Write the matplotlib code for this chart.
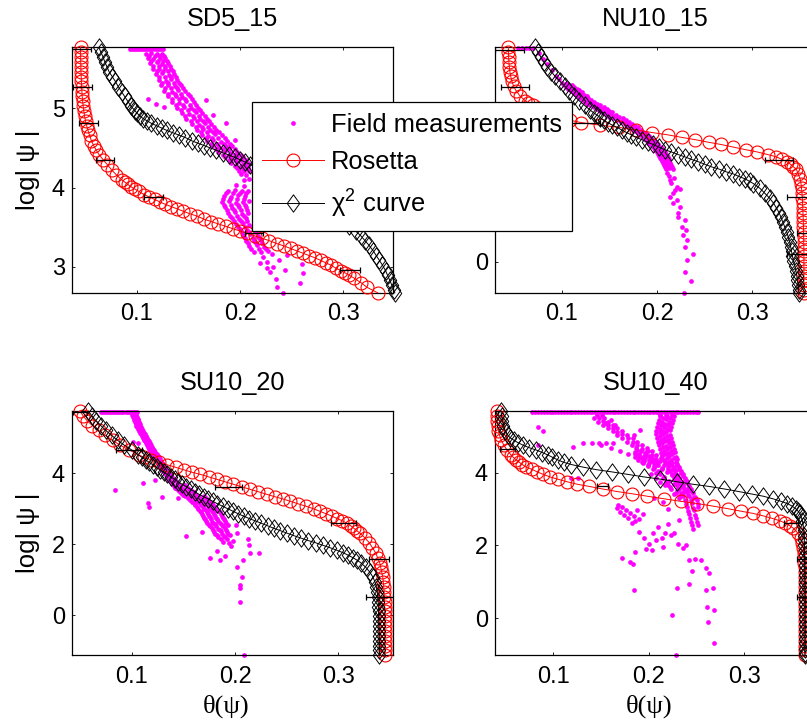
import matplotlib
matplotlib.use("Agg")
import matplotlib.pyplot as plt
from matplotlib.lines import Line2D
from matplotlib.path import Path

plt.rcParams["font.family"] = ["Liberation Sans", "DejaVu Sans"]
plt.rcParams["mathtext.fontset"] = "custom"
plt.rcParams["mathtext.rm"] = "Liberation Sans"
plt.rcParams["mathtext.it"] = "Liberation Sans:italic"
plt.rcParams["mathtext.default"] = "regular"

MAGENTA = "#ff00ff"

# ---------------- SD5_15 ----------------
SD5_ROS_PSI = [5.77, 5.71, 5.65, 5.58, 5.52, 5.46, 5.40, 5.34, 5.27, 5.21, 5.15, 5.09, 5.03, 4.97,
               4.90, 4.84, 4.78, 4.72, 4.66, 4.59, 4.53, 4.47, 4.41, 4.35, 4.29, 4.22, 4.16, 4.10,
               4.07, 4.04, 4.01, 3.98, 3.95, 3.91, 3.88, 3.85, 3.82, 3.79, 3.76, 3.73, 3.70, 3.67,
               3.64, 3.60, 3.57, 3.54, 3.51, 3.48, 3.45, 3.42, 3.39, 3.36, 3.33, 3.29, 3.26, 3.23,
               3.20, 3.17, 3.14, 3.11, 3.08, 3.05, 3.02, 2.98, 2.95, 2.92, 2.89, 2.86,
               2.80, 2.74, 2.67]
SD5_ROS_THETA = [0.0453, 0.0453, 0.0454, 0.0455, 0.0456, 0.0457, 0.0459, 0.0461, 0.0463, 0.0466,
                 0.0469, 0.0473, 0.0478, 0.0484, 0.0492, 0.0501, 0.0512, 0.0525, 0.0540, 0.0558,
                 0.0580, 0.0605, 0.0635, 0.0672, 0.0712, 0.0755, 0.0800, 0.0850,
                 0.088, 0.091, 0.094, 0.098, 0.102, 0.107, 0.112, 0.117, 0.122, 0.127, 0.133, 0.139,
                 0.145, 0.151, 0.158, 0.165, 0.172, 0.179, 0.186, 0.193, 0.200, 0.207, 0.214, 0.221,
                 0.228, 0.236, 0.243, 0.249, 0.255, 0.261, 0.267, 0.273, 0.278, 0.283, 0.288, 0.293,
                 0.298, 0.302, 0.306, 0.310,
                 0.317, 0.323, 0.3335]
SD5_CHI_PSI = [5.77, 5.71, 5.65, 5.58, 5.52, 5.46, 5.40, 5.34, 5.27, 5.21, 5.15, 5.09, 5.03,
               5.00, 4.97, 4.94, 4.90, 4.87, 4.84, 4.81, 4.78, 4.75, 4.72, 4.69, 4.66, 4.63, 4.59,
               4.56, 4.53, 4.50, 4.47, 4.44, 4.41, 4.38, 4.35, 4.32, 4.29, 4.26,
               4.20, 4.13, 4.07, 4.01, 3.95, 3.88, 3.82, 3.76, 3.70, 3.64, 3.57, 3.51, 3.45, 3.39,
               3.33, 3.27, 3.20, 3.14, 3.08, 3.02, 2.95, 2.89, 2.83, 2.77, 2.71, 2.67]
SD5_CHI_THETA = [0.063, 0.065, 0.067, 0.069, 0.071, 0.073, 0.076, 0.079, 0.082, 0.085, 0.088, 0.091, 0.094,
                 0.096, 0.098, 0.100, 0.103, 0.106, 0.110, 0.114, 0.119, 0.124, 0.129, 0.135, 0.141,
                 0.147, 0.153, 0.159, 0.165, 0.171, 0.177, 0.183, 0.189, 0.195, 0.200, 0.205, 0.210, 0.214,
                 0.221, 0.229, 0.237, 0.245, 0.253, 0.261, 0.269, 0.277, 0.285, 0.292, 0.299, 0.306,
                 0.312, 0.317, 0.321, 0.325, 0.329, 0.332, 0.335, 0.338, 0.341, 0.343, 0.345, 0.347,
                 0.349, 0.350]
SD5_BAR_PSI = [5.745, 5.27, 4.81, 4.35, 3.88, 3.42, 2.96]
SD5_BAR_THETA = [0.0463, 0.0471, 0.0529, 0.0689, 0.1163, 0.2136, 0.3065]
SD5_BAR_ERR = [0.0090, 0.0095, 0.0090, 0.0090, 0.0092, 0.0090, 0.0094]
SD5_FIELD_THETA = [
    0.093, 0.097, 0.101, 0.105, 0.109, 0.113, 0.117, 0.121, 0.125,
    0.095, 0.099, 0.103, 0.107, 0.111, 0.115, 0.119, 0.123,
    0.109, 0.114, 0.119, 0.124,
    0.112, 0.117, 0.122, 0.126,
    0.111, 0.116, 0.122, 0.127,
    0.114, 0.120, 0.125, 0.129,
    0.113, 0.119, 0.124, 0.130,
    0.116, 0.121, 0.127, 0.132,
    0.116, 0.121, 0.127, 0.133,
    0.119, 0.125, 0.130, 0.135,
    0.118, 0.124, 0.131, 0.136,
    0.121, 0.127, 0.133, 0.138,
    0.121, 0.128, 0.133, 0.139,
    0.124, 0.130, 0.136, 0.141,
    0.123, 0.130, 0.137, 0.143,
    0.127, 0.133, 0.139, 0.145,
    0.126, 0.134, 0.140, 0.147,
    0.130, 0.137, 0.143, 0.149,
    0.130, 0.138, 0.144, 0.151,
    0.134, 0.141, 0.147, 0.153,
    0.134, 0.141, 0.148, 0.155,
    0.138, 0.145, 0.151, 0.157,
    0.139, 0.146, 0.152, 0.159,
    0.143, 0.149, 0.155, 0.161,
    0.144, 0.150, 0.157, 0.163,
    0.147, 0.154, 0.160, 0.166,
    0.148, 0.155, 0.161, 0.168,
    0.152, 0.158, 0.164, 0.170,
    0.153, 0.160, 0.166, 0.172,
    0.157, 0.163, 0.169, 0.175,
    0.158, 0.164, 0.171, 0.177,
    0.162, 0.168, 0.174, 0.180,
    0.163, 0.169, 0.176, 0.182,
    0.167, 0.173, 0.179, 0.185,
    0.168, 0.174, 0.181, 0.187,
    0.172, 0.178, 0.184, 0.190,
    0.173, 0.180, 0.186, 0.192,
    0.177, 0.183, 0.189, 0.195,
    0.179, 0.185, 0.191, 0.197,
    0.183, 0.189, 0.195, 0.201,
    0.185, 0.191, 0.197, 0.203,
    0.189, 0.195, 0.201, 0.206,
    0.191, 0.197, 0.203, 0.208,
    0.195, 0.201, 0.206,
    0.197, 0.203, 0.208,
    0.199, 0.204, 0.209,
    0.201, 0.206, 0.204, 0.209,
    0.111, 0.118, 0.126, 0.167, 0.186, 0.195, 0.174,
    0.196, 0.204,
    0.188, 0.195, 0.202, 0.208,
    0.186, 0.193, 0.200, 0.206,
    0.184, 0.191, 0.198, 0.205,
    0.183, 0.190, 0.197, 0.204,
    0.182, 0.189, 0.196, 0.203, 0.209,
    0.184, 0.191, 0.198, 0.205,
    0.185, 0.192, 0.199, 0.206,
    0.187, 0.194, 0.201, 0.207,
    0.188, 0.195, 0.202, 0.208,
    0.190, 0.197, 0.204,
    0.192, 0.199, 0.206,
    0.194, 0.201, 0.207,
    0.196, 0.203, 0.209,
    0.198, 0.205, 0.212,
    0.200, 0.207, 0.214,
    0.202, 0.209, 0.215,
    0.203, 0.210, 0.217,
    0.205, 0.212, 0.218,
    0.206, 0.213, 0.220,
    0.208, 0.215, 0.221,
    0.209, 0.216, 0.223,
    0.211, 0.218, 0.225,
    0.213, 0.220, 0.227,
    0.2226, 0.2258, 0.232, 0.2355, 0.235, 0.242, 0.2435, 0.2597, 0.261, 0.258, 0.245, 0.229,
    0.238, 0.219, 0.231, 0.226,
]
SD5_FIELD_PSI = [
    5.745, 5.745, 5.745, 5.745, 5.745, 5.745, 5.745, 5.745, 5.745,
    5.745, 5.745, 5.745, 5.745, 5.745, 5.745, 5.745, 5.745,
    5.69, 5.70, 5.68, 5.69,
    5.66, 5.66, 5.66, 5.66,
    5.63, 5.62, 5.64, 5.63,
    5.60, 5.60, 5.60, 5.60,
    5.57, 5.58, 5.56, 5.57,
    5.535, 5.535, 5.535, 5.535,
    5.50, 5.49, 5.51, 5.50,
    5.465, 5.465, 5.465, 5.465,
    5.43, 5.44, 5.42, 5.43,
    5.395, 5.395, 5.395, 5.395,
    5.36, 5.35, 5.37, 5.36,
    5.325, 5.325, 5.325, 5.325,
    5.29, 5.30, 5.28, 5.29,
    5.255, 5.255, 5.255, 5.255,
    5.22, 5.21, 5.23, 5.22,
    5.185, 5.185, 5.185, 5.185,
    5.15, 5.16, 5.14, 5.15,
    5.115, 5.115, 5.115, 5.115,
    5.08, 5.07, 5.09, 5.08,
    5.045, 5.045, 5.045, 5.045,
    5.01, 5.02, 5.00, 5.01,
    4.975, 4.975, 4.975, 4.975,
    4.94, 4.93, 4.95, 4.94,
    4.905, 4.905, 4.905, 4.905,
    4.87, 4.88, 4.86, 4.87,
    4.835, 4.835, 4.835, 4.835,
    4.80, 4.79, 4.81, 4.80,
    4.765, 4.765, 4.765, 4.765,
    4.73, 4.74, 4.72, 4.73,
    4.695, 4.695, 4.695, 4.695,
    4.66, 4.65, 4.67, 4.66,
    4.625, 4.625, 4.625, 4.625,
    4.59, 4.60, 4.58, 4.59,
    4.555, 4.555, 4.555, 4.555,
    4.52, 4.51, 4.53, 4.52,
    4.485, 4.485, 4.485, 4.485,
    4.45, 4.46, 4.44, 4.45,
    4.415, 4.415, 4.415, 4.415,
    4.38, 4.37, 4.39, 4.38,
    4.345, 4.345, 4.345, 4.345,
    4.31, 4.32, 4.30, 4.31,
    4.275, 4.275, 4.275,
    4.24, 4.23, 4.25,
    4.205, 4.205, 4.205,
    4.17, 4.16, 4.10, 4.11,
    5.12, 5.05, 5.02, 5.10, 4.82, 4.60, 4.92,
    4.03, 4.02,
    3.96, 3.97, 3.95, 3.96,
    3.925, 3.925, 3.925, 3.925,
    3.89, 3.88, 3.90, 3.89,
    3.855, 3.855, 3.855, 3.855,
    3.82, 3.83, 3.81, 3.82, 3.83,
    3.785, 3.785, 3.785, 3.785,
    3.75, 3.74, 3.76, 3.75,
    3.715, 3.715, 3.715, 3.715,
    3.68, 3.69, 3.67, 3.68,
    3.645, 3.645, 3.645,
    3.61, 3.60, 3.62,
    3.575, 3.575, 3.575,
    3.54, 3.55, 3.53,
    3.505, 3.505, 3.505,
    3.47, 3.46, 3.48,
    3.435, 3.435, 3.435,
    3.40, 3.41, 3.39,
    3.365, 3.365, 3.365,
    3.33, 3.32, 3.34,
    3.295, 3.295, 3.295,
    3.26, 3.27, 3.25,
    3.225, 3.225, 3.225,
    3.19, 3.18, 3.20,
    3.12, 3.06, 3.00, 2.75, 2.85, 2.67, 2.96, 3.04, 2.92, 2.79, 3.15, 2.93,
    3.08, 3.05, 3.16, 2.98,
]

# ---------------- NU10_15 ----------------
NU10_ROS_PSI = [5.76, 5.63, 5.50, 5.37, 5.24, 5.11, 4.98, 4.85, 4.72, 4.59, 4.46, 4.33,
                4.27, 4.20, 4.13, 4.07, 4.00, 3.94, 3.87, 3.80, 3.74, 3.67, 3.61, 3.54, 3.47, 3.41,
                3.34, 3.28, 3.21, 3.15, 3.08, 3.01, 2.95, 2.88, 2.82, 2.75, 2.69, 2.62, 2.55, 2.49,
                2.36, 2.23, 2.10, 1.97, 1.84, 1.71, 1.58, 1.45, 1.32, 1.19, 1.06, 0.93, 0.80, 0.67,
                0.54, 0.41, 0.28, 0.15, 0.02, -0.11, -0.24, -0.37, -0.50, -0.63, -0.76, -0.83]
NU10_ROS_THETA = [0.0440, 0.0441, 0.0443, 0.0446, 0.0450, 0.0456, 0.0465, 0.0477, 0.0495, 0.0522,
                  0.0560, 0.0615,
                  0.0650, 0.0695, 0.0750, 0.0810, 0.0875, 0.0945, 0.1015, 0.109, 0.120, 0.140,
                  0.160, 0.178, 0.195, 0.211, 0.226, 0.240, 0.254, 0.267, 0.280, 0.293, 0.305,
                  0.316, 0.325, 0.331, 0.336, 0.340, 0.343, 0.346,
                  0.348, 0.350, 0.351, 0.3515, 0.352, 0.3523, 0.3526, 0.3528, 0.353, 0.3532,
                  0.3534, 0.3535, 0.3536, 0.3537, 0.3538, 0.3539, 0.354, 0.354, 0.354, 0.354,
                  0.354, 0.354, 0.354, 0.354, 0.354, 0.354]
NU10_CHI_PSI = [5.76, 5.63, 5.50, 5.37, 5.24, 5.11, 4.98, 4.85, 4.72, 4.59, 4.46, 4.33, 4.20, 4.07,
                4.00, 3.94, 3.87, 3.80, 3.74, 3.67, 3.61, 3.54, 3.47, 3.41, 3.34, 3.28, 3.21, 3.15,
                3.08, 3.01, 2.95, 2.88, 2.82, 2.75, 2.69, 2.62, 2.55, 2.49, 2.42, 2.36, 2.29, 2.23,
                2.16, 2.10,
                1.97, 1.84, 1.71, 1.58, 1.45, 1.32, 1.19, 1.06, 0.93, 0.80, 0.67, 0.54, 0.41, 0.28,
                0.15, 0.02, -0.11, -0.24, -0.37, -0.50, -0.63, -0.76, -0.83]
NU10_CHI_THETA = [0.072, 0.075, 0.078, 0.081, 0.085, 0.089, 0.093, 0.098, 0.103, 0.108, 0.113, 0.118,
                  0.124, 0.130,
                  0.1335, 0.137, 0.1405, 0.144, 0.148, 0.153, 0.158, 0.163, 0.168, 0.173, 0.178,
                  0.184, 0.190, 0.196, 0.202, 0.208, 0.215, 0.222, 0.229, 0.236, 0.243, 0.250,
                  0.257, 0.265, 0.272, 0.280, 0.286, 0.292, 0.297, 0.301,
                  0.308, 0.313, 0.318, 0.322, 0.325, 0.328, 0.330, 0.332, 0.334, 0.336, 0.3375,
                  0.339, 0.340, 0.341, 0.342, 0.343, 0.3445, 0.3455, 0.3465, 0.347, 0.348, 0.3485,
                  0.349]
NU10_BAR_PSI = [5.70, 4.69, 3.73, 2.74, 1.75, 0.76, 0.22]
NU10_BAR_THETA = [0.045, 0.051, 0.125, 0.328, 0.351, 0.362, 0.351]
NU10_BAR_ERR = [0.015, 0.015, 0.015, 0.015, 0.015, 0.015, 0.015]
NU10_FIELD_THETA = [
    0.054, 0.058, 0.062, 0.066, 0.070,
    0.076, 0.080, 0.085, 0.090, 0.094, 0.097,
    0.100, 0.105,
    0.102, 0.107, 0.111,
    0.104, 0.109, 0.113,
    0.107, 0.111, 0.116,
    0.109, 0.114, 0.118,
    0.112, 0.116, 0.121,
    0.114, 0.119, 0.123,
    0.117, 0.121, 0.126,
    0.119, 0.124, 0.128,
    0.122, 0.127, 0.131,
    0.124, 0.129, 0.134,
    0.127, 0.132, 0.137,
    0.130, 0.135, 0.140,
    0.134, 0.139, 0.144,
    0.137, 0.142, 0.147,
    0.140, 0.145, 0.150,
    0.143, 0.148, 0.153,
    0.147, 0.152, 0.157,
    0.150, 0.155, 0.160,
    0.154, 0.159, 0.164,
    0.158, 0.163, 0.167,
    0.162, 0.167, 0.171,
    0.166, 0.170, 0.174,
    0.169, 0.173, 0.177,
    0.172, 0.176, 0.180,
    0.175, 0.179, 0.183,
    0.177, 0.181, 0.185,
    0.180, 0.184, 0.188,
    0.182, 0.186, 0.190,
    0.185, 0.189, 0.193,
    0.187, 0.191, 0.195,
    0.189, 0.193, 0.197,
    0.191, 0.195, 0.199,
    0.193, 0.197, 0.201,
    0.195, 0.199, 0.203,
    0.197, 0.201, 0.205,
    0.198, 0.202, 0.206,
    0.200, 0.204, 0.208,
    0.201, 0.205, 0.209,
    0.202, 0.206, 0.210,
    0.203, 0.207, 0.211,
    0.204, 0.208, 0.212,
    0.205, 0.209, 0.213,
    0.206, 0.210, 0.214,
    0.207, 0.211, 0.215,
    0.208, 0.212, 0.216,
    0.209, 0.213, 0.217,
    0.210, 0.2136, 0.2206, 0.217, 0.2206, 0.217, 0.224, 0.2224, 0.229, 0.2259, 0.230, 0.2276,
    0.231, 0.2294, 0.238, 0.231, 0.2294, 0.236, 0.228,
    0.212, 0.215, 0.219, 0.214, 0.222, 0.218, 0.224,
]
NU10_FIELD_PSI = [
    5.74, 5.74, 5.74, 5.74, 5.74,
    5.60, 5.45, 5.30, 5.15, 5.00, 4.90,
    4.80, 4.81,
    4.75, 4.75, 4.75,
    4.70, 4.71, 4.69,
    4.65, 4.65, 4.65,
    4.60, 4.59, 4.61,
    4.55, 4.55, 4.55,
    4.50, 4.51, 4.49,
    4.45, 4.45, 4.45,
    4.40, 4.39, 4.41,
    4.35, 4.35, 4.35,
    4.30, 4.31, 4.29,
    4.25, 4.25, 4.25,
    4.20, 4.19, 4.21,
    4.15, 4.15, 4.15,
    4.10, 4.11, 4.09,
    4.05, 4.05, 4.05,
    4.00, 3.99, 4.01,
    3.95, 3.95, 3.95,
    3.90, 3.91, 3.89,
    3.85, 3.85, 3.85,
    3.80, 3.79, 3.81,
    3.75, 3.75, 3.75,
    3.70, 3.71, 3.69,
    3.65, 3.65, 3.65,
    3.60, 3.59, 3.61,
    3.55, 3.55, 3.55,
    3.50, 3.51, 3.49,
    3.45, 3.45, 3.45,
    3.40, 3.39, 3.41,
    3.35, 3.35, 3.35,
    3.30, 3.31, 3.29,
    3.25, 3.25, 3.25,
    3.20, 3.19, 3.21,
    3.15, 3.15, 3.15,
    3.10, 3.11, 3.09,
    3.05, 3.05, 3.05,
    3.00, 2.99, 3.01,
    2.95, 2.95, 2.95,
    2.90, 2.91, 2.89,
    2.85, 2.85, 2.85,
    2.80, 2.79, 2.81,
    2.75, 2.75, 2.75,
    2.70, 2.71, 2.69,
    2.65, 2.65, 2.65,
    2.60, 2.59, 2.61,
    2.55, 2.55, 2.55,
    2.50, 2.51, 2.49,
    2.38, 2.20, 2.02, 1.84, 1.66, 1.57, 1.48, 1.21, 1.12, 0.94, 0.85, 0.72,
    0.58, 0.40, 0.21, 0.04, -0.27, -0.52, -0.83,
    2.30, 2.12, 1.93, 1.75, 1.32, 2.25, 1.95,
]

# ---------------- SU10_20 ----------------
SU20_ROS_PSI = [5.76, 5.62, 5.48, 5.35, 5.21, 5.07, 4.93, 4.79, 4.66, 4.52,
                4.45, 4.38, 4.31, 4.24, 4.17, 4.10, 4.03, 3.97, 3.90, 3.83, 3.76, 3.69, 3.62,
                3.55, 3.48, 3.41, 3.34, 3.28, 3.21, 3.14, 3.07, 3.00, 2.93, 2.86, 2.79, 2.72,
                2.66, 2.59, 2.52, 2.45, 2.38, 2.31,
                2.17, 2.04, 1.90, 1.76, 1.62, 1.48, 1.35, 1.21, 1.07, 0.93, 0.79, 0.66, 0.52,
                0.38, 0.24, 0.10, -0.04, -0.18, -0.31, -0.45, -0.59, -0.73, -0.87, -1.00, -1.14]
SU20_ROS_THETA = [0.0500, 0.0530, 0.0570, 0.0620, 0.0680, 0.0745, 0.0815, 0.0890, 0.0975, 0.1070,
                  0.1120, 0.1190, 0.1265, 0.1345, 0.1425, 0.1505, 0.1585, 0.1665, 0.1745, 0.1825,
                  0.1905, 0.1985, 0.2065, 0.2145, 0.2225, 0.2305, 0.2385, 0.2460, 0.2535, 0.2610,
                  0.269, 0.276, 0.282, 0.288, 0.294, 0.299, 0.304, 0.308, 0.312, 0.315, 0.318, 0.321,
                  0.326, 0.330, 0.333, 0.336, 0.338, 0.340, 0.341, 0.342, 0.343, 0.3435, 0.344,
                  0.3443, 0.3445, 0.3447, 0.3449, 0.345, 0.345, 0.345, 0.345, 0.345, 0.345, 0.345,
                  0.345, 0.345, 0.345]
SU20_CHI_PSI = [5.76, 5.62, 5.48, 5.35, 5.21, 5.07, 4.93, 4.79, 4.66, 4.52,
                4.45, 4.38, 4.31, 4.24, 4.17, 4.10, 4.03, 3.97, 3.90, 3.83, 3.76, 3.69, 3.62,
                3.55, 3.48, 3.41, 3.34, 3.28, 3.21, 3.14, 3.07, 3.00, 2.93, 2.86, 2.79, 2.72,
                2.66, 2.59, 2.52, 2.45, 2.38, 2.31, 2.24, 2.17, 2.10, 2.04, 1.97, 1.90, 1.83,
                1.76, 1.69, 1.62, 1.55, 1.48,
                1.35, 1.21, 1.07, 0.93, 0.79, 0.66, 0.52, 0.38, 0.24, 0.10, -0.04, -0.18, -0.31,
                -0.45, -0.59, -0.73, -0.87, -1.00, -1.14]
SU20_CHI_THETA = [0.0580, 0.0615, 0.0655, 0.0700, 0.0750, 0.0805, 0.0865, 0.0930, 0.1000, 0.1065,
                  0.1100, 0.1135, 0.1170, 0.1205, 0.1240, 0.1275, 0.1310, 0.1345, 0.1380, 0.1415,
                  0.1450, 0.1490, 0.1530, 0.1570, 0.1610, 0.1650, 0.1695, 0.1740, 0.1785, 0.1830,
                  0.1880, 0.1930, 0.1980, 0.2030, 0.2085, 0.2140, 0.2195, 0.2255, 0.2315, 0.2375,
                  0.2440, 0.2505, 0.2570, 0.2640, 0.2710, 0.2780, 0.2850, 0.2920, 0.2985, 0.3045,
                  0.3095, 0.3140, 0.3180, 0.3215,
                  0.3265, 0.3305, 0.3335, 0.3355, 0.3368, 0.3376, 0.3381, 0.3385, 0.3387, 0.3389,
                  0.3390, 0.3391, 0.3392, 0.3393, 0.3394, 0.3395, 0.3396, 0.3397, 0.3397]
SU20_BAR_PSI = [5.74, 4.66, 3.62, 2.60, 1.57, 0.52]
SU20_BAR_THETA = [0.050, 0.0975, 0.1935, 0.305, 0.3394, 0.340]
SU20_BAR_ERR = [0.0071, 0.0129, 0.0129, 0.0125, 0.0097, 0.0132]
SU20_FIELD_THETA = [
    0.070, 0.074, 0.078, 0.082, 0.086, 0.090, 0.094, 0.098, 0.102, 0.105,
    0.072, 0.076, 0.080, 0.084, 0.088, 0.092, 0.096, 0.100, 0.1035,
    0.100, 0.104, 0.101, 0.105, 0.102, 0.106, 0.102, 0.106, 0.103, 0.107, 0.104, 0.108,
    0.104, 0.108, 0.105, 0.109, 0.106, 0.110, 0.107, 0.111, 0.108, 0.112, 0.109, 0.113,
    0.110, 0.114, 0.111, 0.115, 0.112, 0.116, 0.113, 0.117, 0.114, 0.118, 0.115, 0.119,
    0.116, 0.120, 0.117, 0.121, 0.118, 0.122, 0.119, 0.123, 0.120, 0.124, 0.121, 0.125,
    0.122, 0.126, 0.123, 0.127, 0.124, 0.128, 0.125, 0.129, 0.126, 0.130, 0.127, 0.131,
    0.128, 0.132, 0.129, 0.133, 0.131, 0.135, 0.132, 0.136,
    0.133, 0.138, 0.134, 0.139, 0.135, 0.141, 0.136, 0.142, 0.138, 0.144, 0.139, 0.145,
    0.141, 0.147, 0.152, 0.142, 0.148, 0.154,
    0.144, 0.150, 0.156, 0.146, 0.152, 0.158,
    0.148, 0.154, 0.160, 0.150, 0.156, 0.162,
    0.152, 0.158, 0.164, 0.170, 0.154, 0.160, 0.166, 0.172,
    0.156, 0.162, 0.168, 0.174, 0.158, 0.164, 0.170, 0.176,
    0.160, 0.166, 0.172, 0.178, 0.161, 0.167, 0.173, 0.179,
    0.163, 0.169, 0.175, 0.181, 0.164, 0.170, 0.176, 0.182,
    0.166, 0.172, 0.178, 0.184, 0.167, 0.173, 0.179, 0.185,
    0.168, 0.174, 0.180, 0.186, 0.169, 0.175, 0.181, 0.187,
    0.170, 0.176, 0.182, 0.188, 0.171, 0.177, 0.183, 0.189,
    0.172, 0.178, 0.184, 0.190, 0.173, 0.179, 0.185, 0.191,
    0.175, 0.181, 0.187, 0.193, 0.176, 0.182, 0.188,
    0.178, 0.184, 0.190, 0.179, 0.185, 0.191,
    0.180, 0.186, 0.192, 0.181, 0.187, 0.193,
    0.183, 0.189, 0.195, 0.184, 0.190,
    0.186, 0.192, 0.188, 0.194,
    0.084, 0.111, 0.116, 0.117, 0.1226, 0.1297, 0.153, 0.176, 0.185, 0.190, 0.201, 0.202,
    0.213, 0.214, 0.2145, 0.2235, 0.208, 0.2016, 0.2065, 0.2045, 0.2048, 0.205, 0.209, 0.196,
    0.183, 0.168, 0.198, 0.145, 0.106, 0.101,
]
SU20_FIELD_PSI = [
    5.74, 5.74, 5.74, 5.74, 5.74, 5.74, 5.74, 5.74, 5.74, 5.74,
    5.74, 5.74, 5.74, 5.74, 5.74, 5.74, 5.74, 5.74, 5.74,
    5.65, 5.66, 5.60, 5.60, 5.55, 5.54, 5.50, 5.50, 5.45, 5.46, 5.40, 5.40,
    5.35, 5.34, 5.30, 5.30, 5.25, 5.26, 5.20, 5.20, 5.15, 5.14, 5.10, 5.10,
    5.05, 5.06, 5.00, 5.00, 4.95, 4.94, 4.90, 4.90, 4.85, 4.86, 4.80, 4.80,
    4.75, 4.74, 4.70, 4.70, 4.65, 4.66, 4.60, 4.60, 4.55, 4.54, 4.50, 4.50,
    4.45, 4.46, 4.40, 4.40, 4.35, 4.34, 4.30, 4.30, 4.25, 4.26, 4.20, 4.20,
    4.15, 4.14, 4.10, 4.10, 4.05, 4.06, 4.00, 4.00,
    3.95, 3.96, 3.90, 3.90, 3.85, 3.84, 3.80, 3.80, 3.75, 3.76, 3.70, 3.70,
    3.65, 3.64, 3.66, 3.60, 3.60, 3.60,
    3.55, 3.56, 3.54, 3.50, 3.50, 3.50,
    3.45, 3.44, 3.46, 3.40, 3.40, 3.40,
    3.35, 3.36, 3.34, 3.35, 3.30, 3.30, 3.30, 3.30,
    3.25, 3.24, 3.26, 3.25, 3.20, 3.20, 3.20, 3.20,
    3.15, 3.16, 3.14, 3.15, 3.10, 3.10, 3.10, 3.10,
    3.05, 3.04, 3.06, 3.05, 3.00, 3.00, 3.00, 3.00,
    2.95, 2.96, 2.94, 2.95, 2.90, 2.90, 2.90, 2.90,
    2.85, 2.84, 2.86, 2.85, 2.80, 2.80, 2.80, 2.80,
    2.75, 2.76, 2.74, 2.75, 2.70, 2.70, 2.70, 2.70,
    2.65, 2.64, 2.66, 2.65, 2.60, 2.60, 2.60, 2.60,
    2.55, 2.56, 2.54, 2.55, 2.50, 2.50, 2.50,
    2.45, 2.44, 2.46, 2.40, 2.40, 2.40,
    2.35, 2.36, 2.34, 2.30, 2.30, 2.30,
    2.25, 2.24, 2.26, 2.20, 2.20,
    2.15, 2.16, 2.05, 2.04,
    3.53, 3.74, 3.15, 3.06, 3.81, 3.34, 2.24, 1.60, 1.55, 1.66, 2.54, 2.31,
    2.16, 1.98, 1.74, 1.76, 1.55, 1.36, 1.08, 0.85, 0.75, 0.38, -1.13, 1.95,
    1.80, 2.33, 2.10, 3.30, 4.85, 4.89,
]

# ---------------- SU10_40 ----------------
SU40_ROS_PSI = [5.69, 5.56, 5.42, 5.29, 5.15, 5.02, 4.89, 4.75, 4.62, 4.49,
                4.42, 4.35, 4.29, 4.22, 4.15, 4.09, 4.02, 3.95, 3.88, 3.82, 3.75, 3.68, 3.62,
                3.55, 3.48, 3.42, 3.35, 3.28, 3.21, 3.15, 3.08, 3.01, 2.94, 2.88, 2.81, 2.74,
                2.68, 2.61, 2.54, 2.47,
                2.34, 2.21, 2.07, 1.94, 1.80, 1.67, 1.53, 1.40, 1.26, 1.13, 1.00, 0.86, 0.73,
                0.59, 0.46, 0.33, 0.19, 0.06, -0.08, -0.21, -0.35, -0.48, -0.61, -0.75, -0.88,
                -1.016]
SU40_ROS_THETA = [0.0407, 0.0409, 0.0412, 0.0417, 0.0425, 0.0437, 0.0455, 0.0482, 0.0515, 0.0555,
                  0.0580, 0.0610, 0.0640, 0.0675, 0.0715, 0.0775, 0.0830, 0.0895, 0.0965, 0.1045,
                  0.1140, 0.1250, 0.1375, 0.1515, 0.1665, 0.1820, 0.1985, 0.2160, 0.2335, 0.2505,
                  0.2670, 0.2825, 0.2965, 0.3090, 0.3200, 0.3295, 0.3370, 0.3430, 0.3478, 0.3515,
                  0.3560, 0.3590, 0.3608, 0.3618, 0.3624, 0.3628, 0.3630, 0.3631, 0.3632, 0.3633,
                  0.3633, 0.3634, 0.3634, 0.3634, 0.3635, 0.3635, 0.3635, 0.3635, 0.3635, 0.3635,
                  0.3635, 0.3635, 0.3635, 0.3635, 0.3635, 0.3635]
SU40_CHI_PSI = [5.69, 5.56, 5.42, 5.29, 5.15, 5.02,
                4.95, 4.89, 4.82, 4.75, 4.68, 4.62, 4.55, 4.48, 4.42, 4.35, 4.28, 4.22, 4.15,
                4.08, 4.02, 3.95, 3.88, 3.82, 3.75, 3.68, 3.62, 3.55, 3.48, 3.41, 3.35, 3.28,
                3.21, 3.15, 3.08, 3.01, 2.94, 2.88, 2.81,
                2.68, 2.54, 2.41, 2.27, 2.14, 2.00, 1.87, 1.73, 1.60, 1.47, 1.33, 1.20, 1.06,
                0.93, 0.79, 0.66, 0.52, 0.39, 0.25, 0.12, -0.02, -0.15, -0.29, -0.42, -0.56,
                -0.69, -0.83, -0.96, -1.016]
SU40_CHI_THETA = [0.0452, 0.0458, 0.0466, 0.0478, 0.0495, 0.0525,
                  0.0550, 0.0585, 0.0630, 0.0685, 0.0750, 0.0820, 0.0885, 0.0945, 0.0990, 0.1045,
                  0.1110, 0.1190, 0.1310, 0.1450, 0.1610, 0.1780, 0.1950, 0.2120, 0.2290, 0.2460,
                  0.2630, 0.2790, 0.2940, 0.3080, 0.3200, 0.3300, 0.3385, 0.3450, 0.3500, 0.3538,
                  0.3563, 0.3580, 0.3593,
                  0.3608, 0.3617, 0.3622, 0.3625, 0.3628, 0.3630, 0.3631, 0.3632, 0.3633, 0.3634,
                  0.3634, 0.3635, 0.3635, 0.3635, 0.3636, 0.3636, 0.3636, 0.3636, 0.3636, 0.3636,
                  0.3636, 0.3636, 0.3636, 0.3636, 0.3636, 0.3636, 0.3636, 0.3636, 0.3636]
SU40_BAR_PSI = [5.69, 4.65, 3.62, 2.62, 1.62, 0.59]
SU40_BAR_THETA = [0.0407, 0.052, 0.1515, 0.349, 0.363, 0.363]
SU40_BAR_ERR = [0.0018, 0.0075, 0.0062, 0.0075, 0.0075, 0.0075]
SU40_FIELD_THETA = [
    0.078, 0.084, 0.090, 0.096, 0.102, 0.108, 0.114, 0.120, 0.126, 0.132, 0.138, 0.144, 0.150,
    0.156, 0.162, 0.168, 0.174, 0.180, 0.186, 0.192, 0.198, 0.204, 0.210, 0.216, 0.222, 0.228,
    0.234, 0.240, 0.246, 0.252,
    0.081, 0.087, 0.093, 0.099, 0.105, 0.111, 0.117, 0.123, 0.129, 0.135, 0.141, 0.147, 0.153,
    0.159, 0.165, 0.171, 0.177, 0.183, 0.189, 0.195, 0.201, 0.207, 0.213, 0.219, 0.225, 0.231,
    0.237, 0.243, 0.249,
    0.146, 0.151, 0.212, 0.218, 0.224,
    0.143, 0.148, 0.153, 0.147, 0.152, 0.157, 0.152, 0.157, 0.162, 0.157, 0.162, 0.167,
    0.162, 0.167, 0.172, 0.167, 0.172, 0.177, 0.172, 0.178, 0.183, 0.177, 0.183, 0.188,
    0.182, 0.188, 0.193, 0.187, 0.193, 0.198, 0.192, 0.198, 0.203, 0.197, 0.203, 0.208,
    0.202, 0.208, 0.213, 0.206, 0.212, 0.217, 0.210, 0.216, 0.221, 0.214, 0.220, 0.225,
    0.212, 0.219, 0.226, 0.211, 0.218, 0.225, 0.210, 0.217, 0.224, 0.209, 0.216, 0.223,
    0.208, 0.215, 0.222, 0.208, 0.215, 0.222, 0.209, 0.216, 0.223, 0.210, 0.217, 0.224,
    0.211, 0.218, 0.225, 0.212, 0.219, 0.226, 0.213, 0.220, 0.227, 0.214, 0.221, 0.228,
    0.216, 0.223, 0.229, 0.218, 0.224, 0.230, 0.220, 0.226, 0.232, 0.222, 0.228, 0.234,
    0.224, 0.230, 0.236, 0.226, 0.232, 0.238, 0.228, 0.234, 0.240, 0.230, 0.236, 0.242,
    0.232, 0.238, 0.244, 0.234, 0.240, 0.246,
    0.215, 0.222, 0.214, 0.221, 0.213, 0.220, 0.212, 0.219, 0.2115, 0.2185, 0.212, 0.219,
    0.213, 0.220, 0.214, 0.221, 0.215, 0.222, 0.216, 0.223, 0.217, 0.224, 0.219, 0.226,
    0.221, 0.228, 0.223, 0.230, 0.225, 0.232, 0.227, 0.234, 0.229, 0.236, 0.231, 0.238,
    0.233, 0.240, 0.235, 0.242, 0.237, 0.244,
    0.195, 0.200, 0.190, 0.205, 0.199, 0.193, 0.226, 0.232, 0.229, 0.222,
    0.185, 0.190, 0.195, 0.200, 0.205, 0.210, 0.200, 0.205, 0.210, 0.196, 0.188, 0.207,
    0.212, 0.215, 0.218, 0.220, 0.204, 0.199, 0.194, 0.189,
    0.190, 0.196, 0.202, 0.208, 0.214, 0.219, 0.224, 0.228, 0.232, 0.236, 0.240, 0.186,
    0.193, 0.199, 0.205, 0.211, 0.216, 0.221, 0.226, 0.231, 0.236, 0.241, 0.246, 0.202,
    0.207, 0.212, 0.217, 0.223, 0.228, 0.233,
    0.150, 0.160, 0.170, 0.178, 0.185,
    0.236, 0.242, 0.248, 0.238, 0.244, 0.250, 0.239, 0.245, 0.251, 0.240, 0.246, 0.252,
    0.241, 0.247, 0.242, 0.248, 0.243, 0.249, 0.244, 0.250, 0.245, 0.251, 0.246,
    0.168, 0.172, 0.176, 0.170, 0.180, 0.174, 0.184, 0.178, 0.186, 0.182, 0.190, 0.167,
    0.188, 0.194,
    0.0843, 0.0888, 0.0843, 0.121, 0.131, 0.140, 0.148, 0.155, 0.163, 0.126, 0.119, 0.1908,
    0.184, 0.2047, 0.208, 0.215, 0.217, 0.223, 0.226, 0.231, 0.236, 0.239, 0.2425, 0.245,
    0.2483, 0.255, 0.2595, 0.2635, 0.2595, 0.267, 0.2605, 0.2623, 0.2686, 0.2686, 0.2284,
    0.184, 0.224, 0.230, 0.242, 0.190, 0.195, 0.200, 0.185, 0.183, 0.203, 0.197, 0.210,
    0.220, 0.232, 0.214, 0.220, 0.215, 0.205, 0.172, 0.180, 0.160, 0.165, 0.155,
]
SU40_FIELD_PSI = [
    5.65, 5.65, 5.65, 5.65, 5.65, 5.65, 5.65, 5.65, 5.65, 5.65, 5.65, 5.65, 5.65,
    5.65, 5.65, 5.65, 5.65, 5.65, 5.65, 5.65, 5.65, 5.65, 5.65, 5.65, 5.65, 5.65,
    5.65, 5.65, 5.65, 5.65,
    5.65, 5.65, 5.65, 5.65, 5.65, 5.65, 5.65, 5.65, 5.65, 5.65, 5.65, 5.65, 5.65,
    5.65, 5.65, 5.65, 5.65, 5.65, 5.65, 5.65, 5.65, 5.65, 5.65, 5.65, 5.65, 5.65,
    5.65, 5.65, 5.65,
    5.58, 5.58, 5.58, 5.58, 5.58,
    5.49, 5.50, 5.49, 5.40, 5.41, 5.40, 5.31, 5.30, 5.31, 5.22, 5.23, 5.22,
    5.13, 5.12, 5.13, 5.04, 5.05, 5.04, 4.94, 4.95, 4.94, 4.85, 4.84, 4.85,
    4.76, 4.77, 4.76, 4.67, 4.66, 4.67, 4.58, 4.59, 4.58, 4.48, 4.49, 4.48,
    4.39, 4.38, 4.39, 4.30, 4.31, 4.30, 4.20, 4.21, 4.20, 4.10, 4.09, 4.10,
    5.55, 5.54, 5.56, 5.45, 5.46, 5.44, 5.35, 5.34, 5.36, 5.25, 5.26, 5.24,
    5.15, 5.14, 5.16, 5.05, 5.06, 5.04, 4.95, 4.94, 4.96, 4.85, 4.86, 4.84,
    4.75, 4.74, 4.76, 4.65, 4.66, 4.64, 4.55, 4.54, 4.56, 4.45, 4.46, 4.44,
    4.35, 4.34, 4.36, 4.25, 4.26, 4.24, 4.15, 4.14, 4.16, 4.05, 4.06, 4.04,
    3.95, 3.94, 3.96, 3.85, 3.86, 3.84, 3.75, 3.74, 3.76, 3.65, 3.66, 3.64,
    3.55, 3.54, 3.56, 3.45, 3.46, 3.44,
    5.50, 5.50, 5.40, 5.40, 5.30, 5.30, 5.20, 5.20, 5.10, 5.10, 5.00, 5.00,
    4.90, 4.90, 4.80, 4.80, 4.70, 4.70, 4.60, 4.60, 4.50, 4.50, 4.40, 4.40,
    4.30, 4.30, 4.20, 4.20, 4.10, 4.10, 4.00, 4.00, 3.90, 3.90, 3.80, 3.80,
    3.70, 3.70, 3.60, 3.60, 3.50, 3.50,
    4.45, 4.35, 4.52, 4.25, 4.60, 4.40, 3.40, 3.30, 3.50, 3.60,
    4.50, 4.42, 4.33, 4.25, 4.17, 4.05, 4.45, 4.38, 4.30, 4.55, 4.62, 4.00,
    3.95, 3.85, 3.75, 3.65, 4.10, 4.18, 4.26, 4.34,
    4.48, 4.40, 4.32, 4.22, 4.12, 4.02, 3.92, 3.82, 3.72, 3.62, 3.52, 4.56,
    4.28, 4.20, 4.12, 3.98, 3.88, 3.78, 3.68, 3.58, 3.45, 3.38, 3.30, 3.95,
    3.85, 3.75, 3.65, 3.55, 3.45, 3.35,
    4.75, 4.68, 4.60, 4.52, 4.42,
    3.35, 3.36, 3.34, 3.25, 3.24, 3.26, 3.15, 3.16, 3.14, 3.05, 3.04, 3.06,
    2.95, 2.96, 2.85, 2.84, 2.75, 2.76, 2.65, 2.64, 2.55, 2.56, 2.45,
    3.12, 3.05, 2.98, 2.92, 2.90, 2.84, 2.80, 2.74, 2.68, 2.62, 2.72, 3.02,
    2.98, 2.86,
    5.26, 5.13, 4.76, 4.70, 4.82, 4.82, 4.82, 4.82, 4.82, 3.84, 3.84, 5.17,
    5.03, 2.33, 2.15, 1.97, 2.33, 2.29, 2.35, 2.05, 1.92, 2.00, 1.60, 1.30,
    1.62, 1.60, 1.37, 1.23, 0.78, 0.83, 0.32, -0.09, 0.23, -0.67, -1.01,
    0.78, 0.09, 0.82, 0.93, 2.38, 2.20, 2.05, 1.83, 1.50, 1.88, 1.90, 2.50,
    2.60, 2.70, 2.20, 3.00, 3.20, 3.30, 1.65, 1.55, 5.45, 5.30, 5.36,
]

# MATLAB-like diamond, taller than wide
DIAMOND = Path([(0, 1), (0.72, 0), (0, -1), (-0.72, 0), (0, 1)],
               [Path.MOVETO, Path.LINETO, Path.LINETO, Path.LINETO, Path.CLOSEPOLY])

FIELD_STYLE = dict(ls="none", marker="o", ms=3.4, mfc=MAGENTA, mec="none")
ROS_STYLE = dict(color="red", lw=0.7, marker="o", ms=9.3, mfc="none", mec="red", mew=0.8)
CHI_STYLE = dict(color="black", lw=0.7, marker=DIAMOND, ms=12.5, mfc="none", mec="black", mew=0.7)

W, H = 807, 726


def draw_panel(fig, box, title, field, ros, chi, bars, xlim, ylim, yticks, ylabels,
               xlabel=False, ylabel=False):
    left, top, right, bottom = box
    ax = fig.add_axes([left / W, 1 - bottom / H, (right - left) / W, (bottom - top) / H])
    ax.plot(field[0], field[1], clip_on=False, zorder=2, **FIELD_STYLE)
    ax.plot(ros[0], ros[1], clip_on=False, zorder=3, **ROS_STYLE)
    ax.plot(chi[0], chi[1], clip_on=False, zorder=4, **CHI_STYLE)
    ax.errorbar(bars[0], bars[1], xerr=bars[2], fmt="none", ecolor="black",
                elinewidth=0.9, capsize=2.2, capthick=0.9, zorder=5)
    ax.set_xlim(*xlim)
    ax.set_ylim(*ylim)
    ax.set_xticks([0.1, 0.2, 0.3])
    ax.set_xticklabels(["0.1", "0.2", "0.3"])
    ax.set_yticks(yticks)
    ax.set_yticklabels(ylabels)
    ax.tick_params(direction="in", top=True, right=True, length=2.5, width=0.6,
                   labelsize=17, colors="black")
    ax.tick_params(axis="x", pad=7.5)
    ax.tick_params(axis="y", pad=5)
    for sp in ax.spines.values():
        sp.set_linewidth(0.9)
    ax.set_title(title, fontsize=18.2, pad=15)
    if ylabel:
        ax.set_ylabel("log| ψ |", fontsize=18.5)
        ax.yaxis.set_label_coords(-0.10, 0.5)
    if xlabel:
        ax.set_xlabel("θ(ψ)", fontsize=19, family=["Liberation Serif", "DejaVu Serif"])
        ax.xaxis.set_label_coords(0.48, -0.16)
    return ax


def main():
    fig = plt.figure(figsize=(W / 100, H / 100), dpi=100)

    draw_panel(fig, (72, 47.3, 393.3, 292.7), "SD5_15",
               (SD5_FIELD_THETA, SD5_FIELD_PSI), (SD5_ROS_THETA, SD5_ROS_PSI),
               (SD5_CHI_THETA, SD5_CHI_PSI), (SD5_BAR_THETA, SD5_BAR_PSI, SD5_BAR_ERR),
               (0.037, 0.3485), (2.672, 5.77), [3, 4, 5], ["3", "4", "5"], ylabel=True)
    # the 2 and 4 labels of this panel sit under the legend in the original
    draw_panel(fig, (495, 47.3, 816.3, 292.7), "NU10_15",
               (NU10_FIELD_THETA, NU10_FIELD_PSI), (NU10_ROS_THETA, NU10_ROS_PSI),
               (NU10_CHI_THETA, NU10_CHI_PSI), (NU10_BAR_THETA, NU10_BAR_PSI, NU10_BAR_ERR),
               (0.030, 0.367), (-0.83, 5.76), [0, 2, 4], ["0", "", ""])
    draw_panel(fig, (72, 411, 393.3, 655.3), "SU10_20",
               (SU20_FIELD_THETA, SU20_FIELD_PSI), (SU20_ROS_THETA, SU20_ROS_PSI),
               (SU20_CHI_THETA, SU20_CHI_PSI), (SU20_BAR_THETA, SU20_BAR_PSI, SU20_BAR_ERR),
               (0.0422, 0.3532), (-1.137, 5.76), [0, 2, 4], ["0", "2", "4"],
               xlabel=True, ylabel=True)
    draw_panel(fig, (495, 411, 816.3, 655.3), "SU10_40",
               (SU40_FIELD_THETA, SU40_FIELD_PSI), (SU40_ROS_THETA, SU40_ROS_PSI),
               (SU40_CHI_THETA, SU40_CHI_PSI), (SU40_BAR_THETA, SU40_BAR_PSI, SU40_BAR_ERR),
               (0.0389, 0.3754), (-1.016, 5.69), [0, 2, 4], ["0", "2", "4"], xlabel=True)

    handles = [Line2D([], [], **FIELD_STYLE), Line2D([], [], **ROS_STYLE),
               Line2D([], [], **CHI_STYLE)]
    leg = fig.legend(handles, ["Field measurements", "Rosetta", r"$\chi^2$ curve"],
                     loc="upper left", bbox_to_anchor=(251.7 / W, 1 - 102.3 / H),
                     fontsize=18.4, frameon=True, fancybox=False, framealpha=1,
                     edgecolor="black", borderpad=0.42, labelspacing=0.52,
                     handlelength=2.4, handletextpad=0.27, borderaxespad=0, numpoints=1)
    leg.get_frame().set_linewidth(0.9)
    leg.set_zorder(10)

    fig.savefig("out.png", dpi=100, facecolor="white")
    plt.close(fig)


if __name__ == "__main__":
    main()
